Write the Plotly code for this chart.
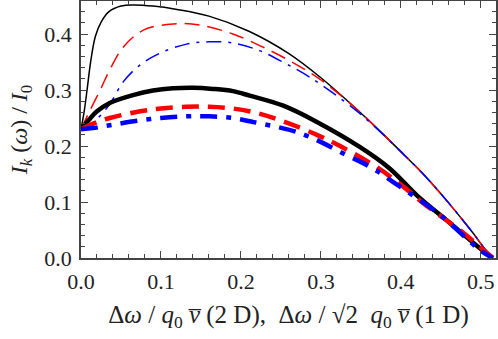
import plotly.graph_objects as go

# curves
x_thin_black = [0.0, 0.004, 0.008, 0.012, 0.018, 0.025, 0.035, 0.05, 0.065, 0.09, 0.12, 0.16, 0.21,
                0.26, 0.30, 0.34, 0.37, 0.40, 0.43, 0.46, 0.49, 0.505, 0.515]
y_thin_black = [0.23, 0.262, 0.305, 0.350, 0.396, 0.421, 0.440, 0.450, 0.452, 0.450, 0.444, 0.432, 0.405,
                0.365, 0.322, 0.272, 0.232, 0.190, 0.147, 0.098, 0.045, 0.016, 0.0]

x_thin_red = [0.0, 0.01, 0.024, 0.036, 0.053, 0.078, 0.115, 0.149, 0.19, 0.23, 0.27, 0.30, 0.34,
              0.37, 0.40, 0.43, 0.46, 0.49, 0.505, 0.515]
y_thin_red = [0.23, 0.26, 0.30, 0.336, 0.377, 0.407, 0.418, 0.416, 0.400, 0.375, 0.345, 0.318, 0.272,
              0.232, 0.190, 0.147, 0.098, 0.045, 0.016, 0.0]

x_thin_blue = [0.0, 0.01, 0.02, 0.036, 0.053, 0.074, 0.099, 0.132, 0.16, 0.19, 0.224, 0.255, 0.286,
               0.34, 0.37, 0.40, 0.43, 0.46, 0.49, 0.505, 0.515]
y_thin_blue = [0.23, 0.236, 0.248, 0.275, 0.315, 0.345, 0.366, 0.382, 0.386, 0.384, 0.370, 0.348, 0.323,
               0.268, 0.231, 0.190, 0.147, 0.098, 0.045, 0.016, 0.0]

x_thick_black = [0.0, 0.01, 0.02, 0.036, 0.065, 0.09, 0.115, 0.14, 0.165, 0.19, 0.211, 0.253, 0.295,
                 0.349, 0.386, 0.42, 0.461, 0.495, 0.515]
y_thick_black = [0.23, 0.247, 0.262, 0.277, 0.291, 0.299, 0.303, 0.304, 0.302, 0.298, 0.290, 0.272, 0.243,
                 0.198, 0.160, 0.112, 0.063, 0.022, 0.0]

x_thick_red = [0.0, 0.015, 0.036, 0.074, 0.10, 0.132, 0.16, 0.19, 0.22, 0.253, 0.295, 0.324,
               0.37, 0.40, 0.428, 0.478, 0.515]
y_thick_red = [0.23, 0.24, 0.25, 0.262, 0.267, 0.270, 0.270, 0.267, 0.259, 0.244, 0.220, 0.200,
               0.162, 0.131, 0.098, 0.045, 0.0]

x_thick_blue = [0.0, 0.015, 0.036, 0.07, 0.10, 0.132, 0.16, 0.19, 0.215, 0.274, 0.332, 0.365,
                0.39, 0.449, 0.499, 0.515]
y_thick_blue = [0.23, 0.232, 0.237, 0.245, 0.250, 0.253, 0.253, 0.250, 0.243, 0.223, 0.184, 0.160,
                0.136, 0.077, 0.014, 0.0]

series = [
    (x_thin_black, y_thin_black, "black", 1.5, "solid"),
    (x_thin_red, y_thin_red, "red", 1.5, "15px,8px"),
    (x_thin_blue, y_thin_blue, "blue", 1.5, "15px,7px,3px,7px"),
    (x_thick_black, y_thick_black, "black", 4.5, "solid"),
    (x_thick_red, y_thick_red, "red", 4.5, "17px,9px"),
    (x_thick_blue, y_thick_blue, "blue", 4.5, "17px,9px,5px,9px"),
]

fig = go.Figure()
for xs, ys, color, width, dash in series:
    fig.add_trace(go.Scatter(x=xs, y=ys, mode="lines", line_shape="spline",
                             line=dict(color=color, width=width, dash=dash),
                             showlegend=False))

serif = "Liberation Serif"
axis_style = dict(
    showline=True, linecolor="#444", linewidth=1.5, mirror="ticks",
    ticks="inside", ticklen=7, tickcolor="#444", tickwidth=1,
    showgrid=False, zeroline=False, tickformat=".1f", automargin=False,
    minor=dict(dtick=0.02, ticks="inside", ticklen=4, tickcolor="#444", showgrid=False),
    tickfont=dict(family=serif, size=22, color="#222"),
)

fig.update_xaxes(range=[0, 0.519], dtick=0.1, ticklabelstandoff=3, **axis_style,
                 title=dict(text="Δ<i>ω</i> / <i>q</i><sub>0</sub> <i>v̅</i> (2 D),  Δ<i>ω</i> / √2  <i>q</i><sub>0</sub> <i>v̅</i> (1 D)",
                            font=dict(family=serif, size=25, color="#222"), standoff=12))
fig.update_yaxes(range=[0, 0.459], dtick=0.1, ticklabelstandoff=3, **axis_style,
                 title=dict(text="<i>I</i><sub><i>k</i></sub> (<i>ω</i>) / <i>I</i><sub>0</sub>",
                            font=dict(family=serif, size=24, color="#222"), standoff=10))

fig.update_layout(width=498, height=339, margin=dict(l=81, r=2, t=1, b=81),
                  plot_bgcolor="white", paper_bgcolor="white")

# page body has a default margin; remove it so the figure sits at the corner
fig.write_html("out.html", config={"displayModeBar": False},
               post_script="document.body.style.margin='0';")
